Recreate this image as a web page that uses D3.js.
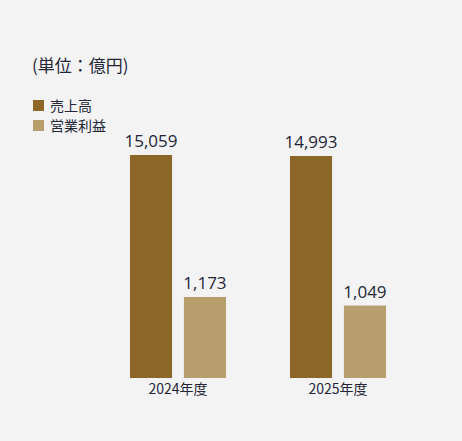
<!DOCTYPE html>
<html><head><meta charset="utf-8">
<script src="https://cdn.jsdelivr.net/npm/d3@7"></script>
<style>
html,body{margin:0;padding:0;background:#f3f3f3;}
svg{display:block;font-family:"Noto Sans CJK JP","Noto Sans",sans-serif;}
</style></head>
<body>
<script>
const years = ["2024年度", "2025年度"];
const seriesNames = ["売上高", "営業利益"];
const sales = [15059, 14993];
const profit = [1173, 1049];
const unitLabel = "(単位：億円)";
const colors = ["#8d6727", "#b89e6c"];

const W = 462, H = 441, baseY = 378;
const svg = d3.select("body").append("svg").attr("width", W).attr("height", H);
svg.append("rect").attr("width", W).attr("height", H).attr("fill", "#f3f3f3");

const x0 = d3.scaleBand().domain(years).range([98, 418]).paddingInner(0.4).paddingOuter(0.2);
const x1 = d3.scaleBand().domain(seriesNames).range([0, x0.bandwidth()]).paddingInner(0.22);
const ySales = d3.scaleLinear().domain([0, 15059]).range([baseY, 155]);
const yProfit = d3.scaleLinear().domain([0, 1173]).range([baseY, 297]);

const data = years.map((y, i) => ({year: y, vals: [
  {s: seriesNames[0], v: sales[i], sc: ySales, c: colors[0]},
  {s: seriesNames[1], v: profit[i], sc: yProfit, c: colors[1]}
]}));

const g = svg.selectAll("g.grp").data(data).enter().append("g")
  .attr("transform", d => `translate(${x0(d.year)},0)`);
g.selectAll("rect").data(d => d.vals).enter().append("rect")
  .attr("x", d => x1(d.s)).attr("width", x1.bandwidth())
  .attr("y", d => d.sc(d.v)).attr("height", d => baseY - d.sc(d.v))
  .attr("fill", d => d.c);
g.selectAll("text.val").data(d => d.vals).enter().append("text")
  .attr("x", d => x1(d.s) + x1.bandwidth() / 2).attr("y", d => d.sc(d.v) - 8)
  .attr("text-anchor", "middle").attr("font-size", 17).attr("fill", "#232636")
  .attr("font-family", "'Open Sans',sans-serif")
  .text(d => d3.format(",")(d.v));

const xAxis = svg.append("g").attr("transform", `translate(0,${baseY})`)
  .call(d3.axisBottom(x0).tickSize(0).tickPadding(6));
xAxis.select(".domain").remove();
xAxis.selectAll("text").attr("font-size", 14).attr("fill", "#232636")
  .attr("font-family", "'Noto Sans CJK JP',sans-serif");

svg.append("text").attr("x", 32).attr("y", 72).attr("font-size", 17)
  .attr("fill", "#232636").text(unitLabel);

const leg = svg.selectAll("g.leg").data(seriesNames).enter().append("g")
  .attr("transform", (d, i) => `translate(33,${100 + i * 20})`);
leg.append("rect").attr("width", 11).attr("height", 11).attr("fill", (d, i) => colors[i]);
leg.append("text").attr("x", 17).attr("y", 10.5).attr("font-size", 14)
  .attr("fill", "#232636").text(d => d);
</script>
</body></html>
